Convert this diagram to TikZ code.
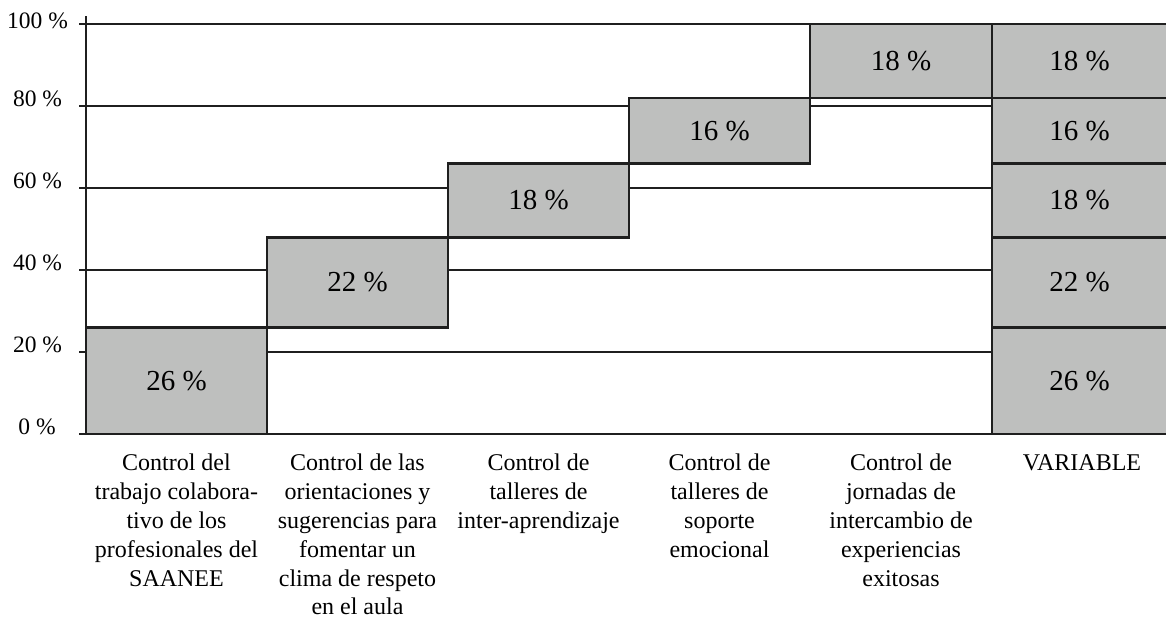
\documentclass[tikz,border=0pt]{standalone}
\usepackage{fontspec}
\setmainfont{Liberation Serif}
\begin{document}
\begin{tikzpicture}[x=1pt,y=-1pt,
  gridline/.style={draw=black!88, line width=1.7pt},
  axisline/.style={draw=black!88, line width=1.8pt},
  barbox/.style={rectangle, draw=black!88, line width=2.6pt, fill=barfill,
    inner sep=0pt, font={\fontsize{29}{32}\selectfont}},
  ylab/.style={anchor=base, inner sep=0pt, font={\fontsize{23.5}{26}\selectfont}},
  xlab/.style={anchor=north, inner sep=0pt, align=center,
    font={\fontsize{24}{28.8}\selectfont}}]
\definecolor{barfill}{HTML}{BEBFBE}
\useasboundingbox (0,0) rectangle (1166,619);
% grid lines (y = 434 - 4.1 p)
\foreach \p in {0,20,40,60,80}{
  \draw[gridline] (79,{434-4.1*\p}) -- (992,{434-4.1*\p});
}
\draw[gridline] (79,24) -- (1166,24);
% axis
\draw[axisline] (86,16) -- (86,434);
% y labels
\node[ylab] (y0)   at (37,434) {0 \%};
\node[ylab] (y20)  at (37.5,352) {20 \%};
\node[ylab] (y40)  at (37.5,270) {40 \%};
\node[ylab] (y60)  at (37.5,188) {60 \%};
\node[ylab] (y80)  at (37.5,106) {80 \%};
\node[ylab] (y100) at (37.5,28)  {100 \%};
% staircase bars
\node[barbox, minimum width=181pt, minimum height=106.6pt] (b1) at (176.5,380.7) {26 \%};
\node[barbox, minimum width=181pt, minimum height=90.2pt]  (b2) at (357.5,282.3) {22 \%};
\node[barbox, minimum width=181pt, minimum height=73.8pt]  (b3) at (538.5,200.3) {18 \%};
\node[barbox, minimum width=181pt, minimum height=65.6pt]  (b4) at (719.5,130.6) {16 \%};
\node[barbox, minimum width=182pt, minimum height=73.8pt]  (b5) at (901,60.9)    {18 \%};
% variable column
\node[barbox, minimum width=175pt, minimum height=106.6pt] (v1) at (1079.5,380.7) {26 \%};
\node[barbox, minimum width=175pt, minimum height=90.2pt]  (v2) at (1079.5,282.3) {22 \%};
\node[barbox, minimum width=175pt, minimum height=73.8pt]  (v3) at (1079.5,200.3) {18 \%};
\node[barbox, minimum width=175pt, minimum height=65.6pt]  (v4) at (1079.5,130.6) {16 \%};
\node[barbox, minimum width=175pt, minimum height=73.8pt]  (v5) at (1079.5,60.9)  {18 \%};
% category labels
\node[xlab] (c1) at (176.5,454) {Control del\\trabajo colabora-\\tivo de los\\profesionales del\\SAANEE};
\node[xlab] (c2) at (357.5,454) {Control de las\\orientaciones y\\sugerencias para\\fomentar un\\clima de respeto\\en el aula};
\node[xlab] (c3) at (538.5,454) {Control de\\talleres de\\inter-aprendizaje};
\node[xlab] (c4) at (719.5,454) {Control de\\talleres de\\soporte\\emocional};
\node[xlab] (c5) at (901,454)   {Control de\\jornadas de\\intercambio de\\experiencias\\exitosas};
\node[xlab] (c6) at (1082,454)  {VARIABLE};
\end{tikzpicture}
\end{document}
